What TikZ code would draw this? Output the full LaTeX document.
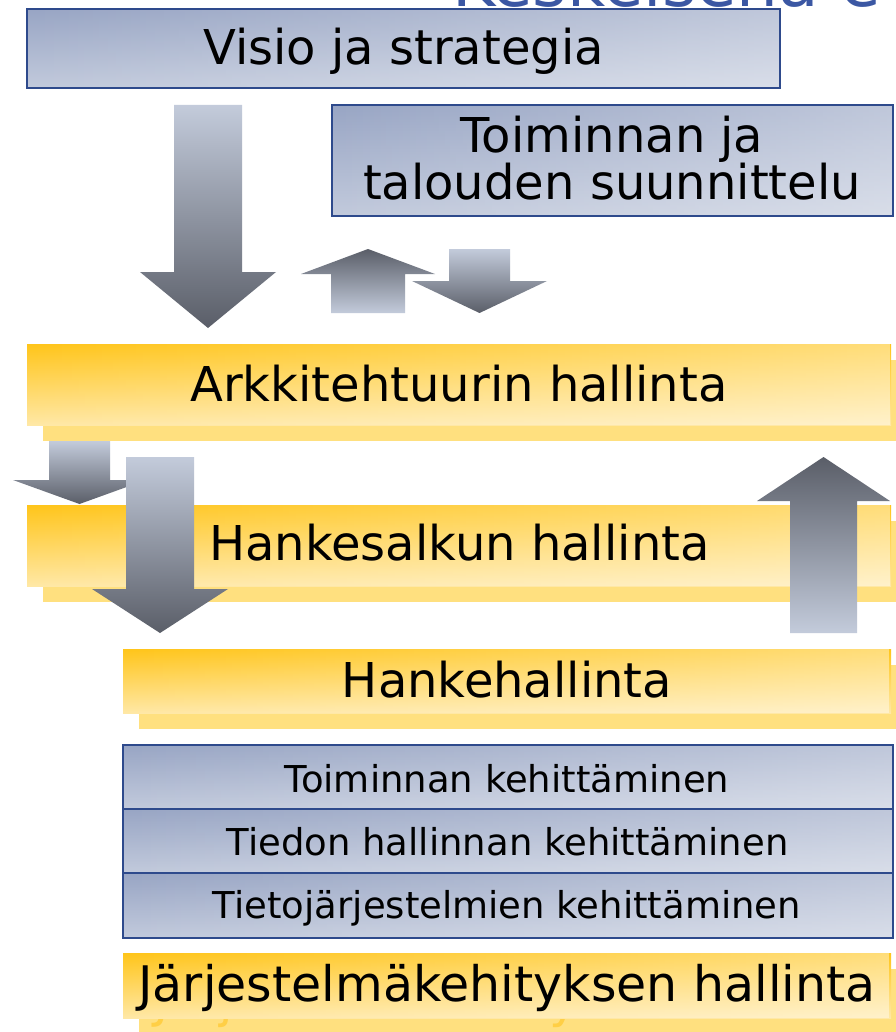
\documentclass[tikz,border=0pt]{standalone}
\usepackage{fontspec}
\setmainfont{DejaVu Sans}
\usetikzlibrary{fadings}
\definecolor{bluedark}{HTML}{2E4A8C}
\definecolor{blueA}{HTML}{98A5C4}
\definecolor{blueB}{HTML}{C2CADC}
\definecolor{arrowLight}{HTML}{C3CBDB}
\definecolor{arrowDark}{HTML}{5A5E68}
\definecolor{yelA}{HTML}{FFC51A}
\definecolor{yelB}{HTML}{FFE8A6}
\definecolor{yelShadow}{HTML}{FFE07F}
\definecolor{yelText}{HTML}{FFCF45}
\definecolor{titleblue}{HTML}{3B57A3}
\newcommand{\myYbar}[4]{%
  \shade[yelbar] (#1,#2) rectangle (#3,#4);
  \fill[glow,fill opacity=0.42] (#1,#2) rectangle (#3,#4);}
\newcommand{\myBbox}[4]{%
  \shade[bluebox] (#1,#2) rectangle (#3,#4);
  \fill[glow,fill opacity=0.38] (#1,#2) rectangle (#3,#4);
  \draw[boxline] (#1,#2) rectangle (#3,#4);}
\begin{document}
\begin{tikzpicture}[x=1pt,y=-1pt,
  bluebox/.style={top color=blueA,bottom color=blueB},
  boxline/.style={draw=bluedark,line width=1.6pt},
  yelbar/.style={top color=yelA,bottom color=yelB},
  glow/.style={fill=white,path fading=west},
  yelshadow/.style={fill=yelShadow},
  downarrow/.style={top color=arrowLight,bottom color=arrowDark},
  uparrow/.style={top color=arrowDark,bottom color=arrowLight},
  bigtext/.style={anchor=base,inner sep=0pt,font=\fontsize{48}{56}\selectfont},
  smalltext/.style={anchor=base,inner sep=0pt,font=\fontsize{37}{44}\selectfont},
  ghosttext/.style={anchor=base,inner sep=0pt,text=yelText,font=\fontsize{49}{56}\selectfont}
]
\useasboundingbox (0,0) rectangle (895,1032);
\fill[white] (0,0) rectangle (895,1032);

% title fragment (cut off at the top edge)
\begin{scope}
\clip (0,0) rectangle (895,9);
\node[anchor=base west,inner sep=0pt,text=titleblue,font=\fontsize{66}{72}\selectfont] (title) at (452,7) {Keskeisenä e};
\end{scope}

% top blue boxes
\myBbox{27}{9}{780}{88}
\node[bigtext] (visio) at (403.5,65) {Visio ja strategia};
\myBbox{332}{105}{893}{216}
\node[bigtext] (toimA) at (612,153) {Toiminnan ja};
\node[bigtext] (toimB) at (612,200) {talouden suunnittelu};

% arrows under the top boxes
\shade[downarrow] (174,105) -- (242,105) -- (242,272) -- (276,272) -- (208,328) -- (140,272) -- (174,272) -- cycle;
\shade[uparrow] (368,249) -- (435,274) -- (405,274) -- (405,313) -- (331,313) -- (331,274) -- (301,274) -- cycle;
\shade[downarrow] (449,249) -- (510,249) -- (510,281) -- (547,281) -- (479.5,313) -- (412,281) -- (449,281) -- cycle;

% Arkkitehtuurin hallinta
\fill[yelshadow] (43,360) rectangle (911,441);
\myYbar{27}{344}{891}{425}
\node[bigtext] (ark) at (459,401) {Arkkitehtuurin hallinta};

% Hankesalkun hallinta
\fill[yelshadow] (43,521) rectangle (911,602);
\myYbar{27}{505}{891}{586}
\node[bigtext] (hs) at (459.5,560) {Hankesalkun hallinta};

% arrows around Hankesalkun hallinta
\shade[downarrow] (49,441) -- (110,441) -- (110,480) -- (146,480) -- (79.5,504) -- (13,480) -- (49,480) -- cycle;
\shade[downarrow] (126,457) -- (194,457) -- (194,589) -- (228,589) -- (160,633) -- (92,589) -- (126,589) -- cycle;
\shade[uparrow] (823.5,457) -- (890,501) -- (857,501) -- (857,633) -- (790,633) -- (790,501) -- (757,501) -- cycle;

% Hankehallinta
\fill[yelshadow] (139,665) rectangle (911,729);
\myYbar{123}{649}{891}{713}
\node[bigtext] (hh) at (507,697) {Hankehallinta};

% stack of three blue boxes
\myBbox{123}{745}{893}{809}
\myBbox{123}{809}{893}{873}
\myBbox{123}{873}{893}{938}
\node[smalltext] (tk) at (507,792) {Toiminnan kehittäminen};
\node[smalltext] (thk) at (507.5,855) {Tiedon hallinnan kehittäminen};
\node[smalltext] (tjk) at (507,918) {Tietojärjestelmien kehittäminen};

% Järjestelmäkehityksen hallinta (its shadow shows the text's descenders)
\fill[yelshadow] (139,969) rectangle (911,1034);
\begin{scope}
\clip (139,1018) rectangle (911,1034);
\node[ghosttext] (jkG) at (523,1017) {Järjestelmäkehityksen hallinta};
\end{scope}
\myYbar{123}{953}{891}{1018}
\node[bigtext,font=\fontsize{49}{56}\selectfont] (jk) at (507,1001) {Järjestelmäkehityksen hallinta};
\end{tikzpicture}
\end{document}
